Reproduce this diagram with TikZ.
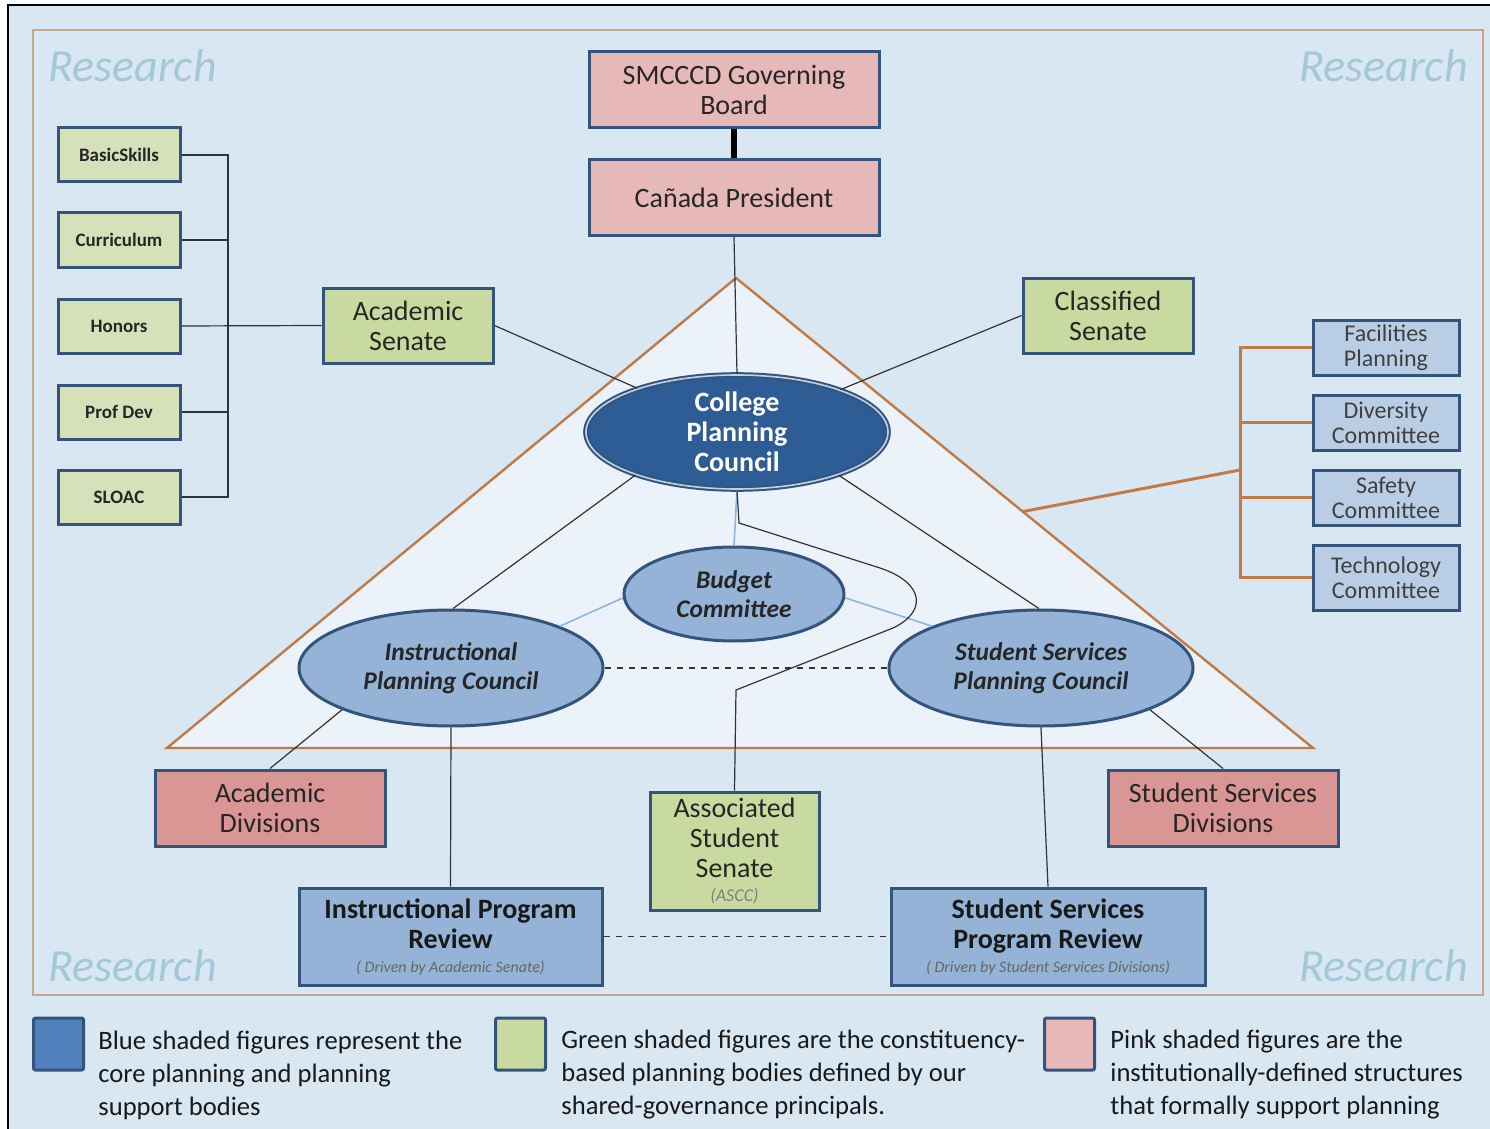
\documentclass[tikz,border=0pt]{standalone}
\usepackage{fontspec}
\setmainfont{Carlito}
\usetikzlibrary{shapes.geometric,calc}
\definecolor{bgc}{HTML}{D9E7F3}
\definecolor{tric}{HTML}{ECF2F9}
\definecolor{framec}{HTML}{C9A58E}
\definecolor{brownc}{HTML}{BF7A45}
\definecolor{bordc}{HTML}{34547C}
\definecolor{pinkc}{HTML}{E6B9B8}
\definecolor{salmonc}{HTML}{DA9694}
\definecolor{greenc}{HTML}{C8DAA0}
\definecolor{palegreenc}{HTML}{D7E1B9}
\definecolor{bluec}{HTML}{95B3D7}
\definecolor{lightbluec}{HTML}{B9CDE5}
\definecolor{darkbluec}{HTML}{2E5C94}
\definecolor{legbluec}{HTML}{4F81BD}
\definecolor{linec}{HTML}{333333}
\definecolor{bdgline}{HTML}{8EB4E3}
\definecolor{txt}{HTML}{262626}
\definecolor{researchc}{HTML}{A3C8D8}
\begin{document}
\begin{tikzpicture}[x=0.5pt,y=-0.5pt,
  box/.style={draw=bordc, line width=1.5pt, inner sep=0pt, align=center, text=txt},
  bigtxt/.style={font=\fontsize{14}{15}\selectfont},
  pinkbox/.style={box, bigtxt, fill=pinkc, minimum width=145pt, minimum height=38pt},
  senbox/.style={box, bigtxt, fill=greenc, minimum width=85pt, minimum height=37.5pt},
  smallbox/.style={box, fill=palegreenc, minimum width=61pt, minimum height=27pt, font=\fontsize{9.5}{11}\selectfont\bfseries},
  commbox/.style={box, fill=lightbluec, minimum width=73pt, minimum height=27.5pt, text=black!75, font=\fontsize{12}{12.5}\selectfont},
  divbox/.style={box, bigtxt, fill=salmonc, minimum width=115pt, minimum height=38pt},
  revbox/.style={box, fill=bluec, minimum height=48.5pt, text=black!90, font=\fontsize{14}{15}\selectfont\bfseries},
  ell/.style={ellipse, draw=bordc, line width=1.5pt, fill=bluec, inner sep=0pt, align=center, text=txt, font=\fontsize{12.7}{14.5}\selectfont\bfseries\itshape},
  thinline/.style={draw=linec, line width=0.6pt},
  bline/.style={draw=bdgline, line width=0.8pt},
  orline/.style={draw=brownc, line width=1.5pt},
  research/.style={text=researchc, font=\fontsize{23}{23}\selectfont\itshape, inner sep=0pt},
  legsq/.style={draw=bordc, line width=1.5pt, rounded corners=1pt, minimum width=25pt, minimum height=26pt, inner sep=0pt},
  legtxt/.style={anchor=west, align=left, inner sep=0pt, text=black!90, font=\fontsize{13.3}{16.5}\selectfont}
]
\useasboundingbox (0,0) rectangle (1490,1129);
\fill[white] (0,0) rectangle (1490,1129);
\fill[bgc] (8,5) rectangle (1490,1129);
\draw[black, line width=1pt] (8,1129) -- (8,5) -- (1490,5);
\draw[framec, line width=1pt] (33,30) rectangle (1483,995);

% research labels
\node[research, anchor=west] (r1) at (48,66) {Research};
\node[research, anchor=east] (r2) at (1468,66) {Research};
\node[research, anchor=west] (r3) at (48,966) {Research};
\node[research, anchor=east] (r4) at (1468,966) {Research};

% triangle
\coordinate (apex) at (736,278);
\coordinate (tbl) at (167,748);
\coordinate (tbr) at (1313,748);
\filldraw[fill=tric, draw=brownc, line width=1.2pt] (apex) -- (tbl) -- (tbr) -- cycle;

% top boxes
\node[pinkbox] (board) at (734,90) {SMCCCD Governing\\Board};
\node[pinkbox] (pres) at (734,197.5) {Cañada President};

% senates
\node[senbox] (acsen) at (408,325.5) {Academic\\Senate};
\node[senbox] (clsen) at (1108,315.5) {Classified\\Senate};

% left committees
\node[smallbox] (basic) at (119,155) {BasicSkills};
\node[smallbox] (curr) at (119,240) {Curriculum};
\node[smallbox] (honors) at (119,326) {Honors};
\node[smallbox] (profdev) at (119,412) {Prof Dev};
\node[smallbox] (sloac) at (119,497) {SLOAC};

% right committees
\node[commbox] (facil) at (1386,347.5) {Facilities\\Planning};
\node[commbox] (divc) at (1386,422.5) {Diversity\\Committee};
\node[commbox] (safety) at (1386,497.5) {Safety\\Committee};
\node[commbox, minimum height=32.5pt] (tech) at (1386,577.5) {Technology\\Committee};

% ellipses
\node[ell, fill=darkbluec, text=white, double=bluec!60, double distance=0.8pt, line width=1pt, minimum width=151pt, minimum height=57pt, font=\fontsize{14}{15}\selectfont\bfseries] (cpc) at (737,432) {College\\Planning\\Council};
\node[ell, minimum width=110pt, minimum height=47pt] (budget) at (734,594) {Budget\\Committee};
\node[ell, minimum width=152pt, minimum height=58pt] (ipc) at (451,668) {Instructional\\Planning Council};
\node[ell, minimum width=152pt, minimum height=58pt] (sspc) at (1041,668) {Student Services\\Planning Council};

% bottom boxes
\node[divbox] (acdiv) at (270,808) {Academic\\Divisions};
\node[divbox] (ssdiv) at (1223,808) {Student Services\\Divisions};
\node[box, bigtxt, fill=greenc, minimum width=84.5pt, minimum height=59pt] (ass) at (734.5,851) {Associated\\Student\\Senate\\[-3pt]{\fontsize{9}{10}\selectfont\itshape\color{black!50}(ASCC)}};
\node[revbox, minimum width=151.5pt] (ipr) at (450.5,936.5) {Instructional Program\\Review\\[-3pt]{\fontsize{8}{9}\selectfont\mdseries\itshape\color{black!60}( Driven by Academic Senate)}};
\node[revbox, minimum width=157pt] (sspr) at (1048,936.5) {Student Services\\Program Review\\[-3pt]{\fontsize{8}{9}\selectfont\mdseries\itshape\color{black!60}( Driven by Student Services Divisions)}};

% connectors top
\draw[black, line width=3pt] (board.south) -- (pres.north);
\draw[thinline] (pres.south) -- (cpc.north);
\draw[thinline] (acsen.east) -- (cpc);
\draw[thinline] (clsen.west) -- (cpc);

% left bus
\coordinate (lbus) at (228,0);
\draw[thinline] (basic.east) -| (lbus |- sloac.east) -- (sloac.east);
\draw[thinline] (curr.east) -- (curr.east -| lbus);
\draw[thinline] (profdev.east) -- (profdev.east -| lbus);
\draw[thinline] (honors.east) -- (acsen.west);

% right bus
\coordinate (rbus) at (1240,0);
\coordinate (rmid) at (1240,470);
\coordinate (tedge) at ($(apex)!0.497!(tbr)$);
\draw[orline] (facil.west) -| (rbus |- tech.west) -- (tech.west);
\draw[orline] (divc.west) -- (divc.west -| rbus);
\draw[orline] (safety.west) -- (safety.west -| rbus);
\draw[orline] (rmid) -- (tedge);

% inner connectors
\draw[thinline] (cpc.203) -- (ipc.88);
\draw[thinline] (cpc.-23) -- (sspc.92);
\draw[bline] (cpc.south) -- (budget.north);
\draw[bline] (budget.182) -- (ipc.21);
\draw[bline] (budget.-2) -- (sspc.159);
\draw[thinline, dashed] (ipc.east) -- (sspc.west);
\coordinate (k1) at (739,523);
\coordinate (k2) at (880,568);
\coordinate (k3) at (893,628);
\coordinate (k4) at (736,690);
\draw[thinline] (cpc.south) -- (k1) -- (k2) .. controls (925,583) and (927,612) .. (k3) -- (k4) -- (ass.north);

% bottom connectors
\draw[thinline] (ipc.201) -- (acdiv.north);
\draw[thinline] (sspc.-21) -- (ssdiv.north);
\draw[thinline] (ipc.south) -- (ipr.north);
\draw[thinline] (sspc.south) -- (sspr.north);
\draw[thinline, dashed] (ipr.east) -- (sspr.west);

% legend
\node[legsq, fill=legbluec] (lb) at (58.5,1044) {};
\node[legsq, fill=greenc] (lg) at (520.5,1044) {};
\node[legsq, fill=pinkc] (lp) at (1069.5,1044) {};
\node[legtxt] (lbt) at (98,1075) {Blue shaded figures represent the\\core planning and planning\\support bodies};
\node[legtxt] (lgt) at (561,1075) {Green shaded figures are the constituency-\\based planning bodies defined by our\\shared-governance principals.};
\node[legtxt] (lpt) at (1110,1075) {Pink shaded figures are the\\institutionally-defined structures\\that formally support planning};
\end{tikzpicture}
\end{document}
